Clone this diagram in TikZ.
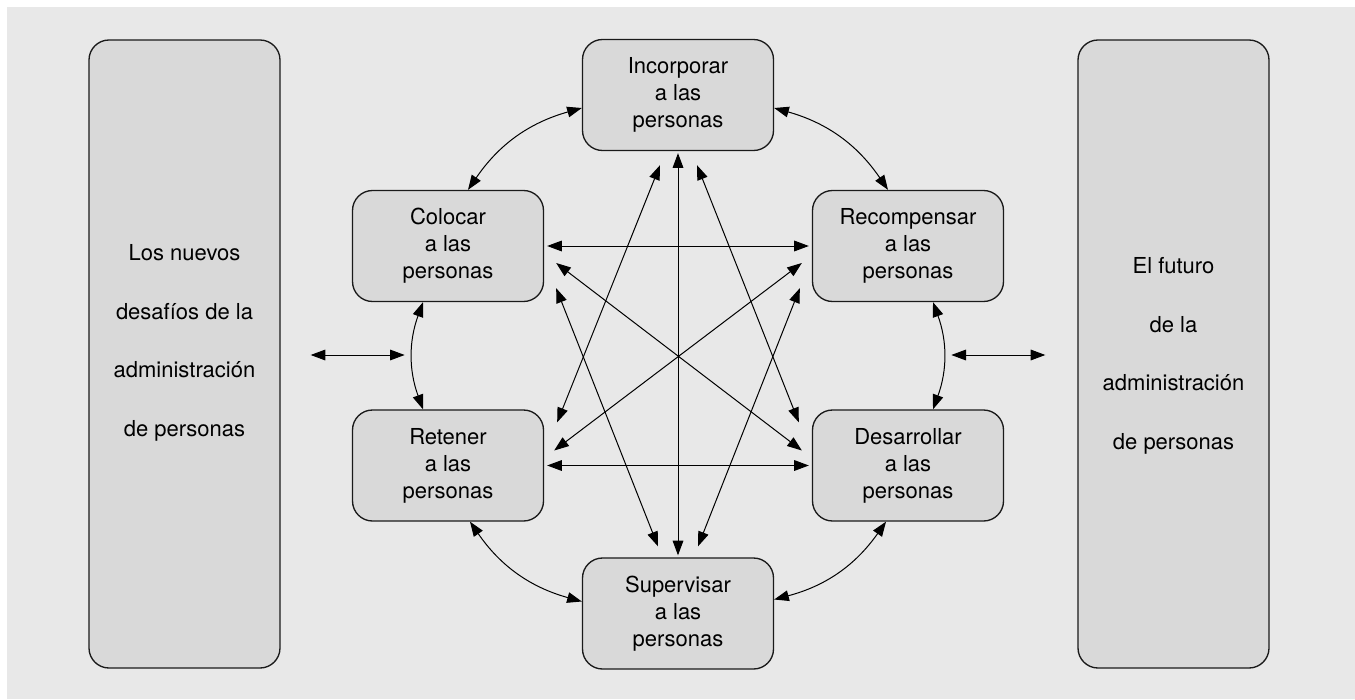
\documentclass[tikz,border=0pt]{standalone}
\usepackage{fontspec}
\setmainfont{TeX Gyre Heros}
\usetikzlibrary{arrows.meta, positioning, calc}
\definecolor{bggray}{HTML}{E8E8E8}
\definecolor{boxgray}{HTML}{D9D9D9}
\definecolor{edge}{HTML}{1A1A1A}
\tikzset{%
	stage/.style={draw=edge, line width=1pt, fill=boxgray, rectangle, rounded corners=15pt,%
		minimum width=143.25pt, minimum height=83.25pt, inner sep=0pt, align=center,%
		font=\fontsize{16.5}{20.25}\selectfont},
	area/.style={draw=edge, line width=1pt, fill=boxgray, rectangle, rounded corners=15pt,%
		minimum width=143.25pt, minimum height=471pt, inner sep=0pt},
	areatext/.style={align=center, font=\fontsize{16.5}{44}\selectfont},
	link/.style={{Triangle[length=11pt,width=8pt]}-{Triangle[length=11pt,width=8pt]},%
		line width=0.75pt}
}

\begin{document}
\begin{tikzpicture}[x=0.75pt, y=-0.75pt]
	\useasboundingbox (0,0) rectangle (1355,699);
	\fill[bggray] (7,7) rectangle (1355,699);

	\node[stage] (inc) at (678,95) {Incorporar\\a las\\personas};
	\node[stage] (col) at (448,246) {Colocar\\a las\\personas};
	\node[stage] (rec) at (908,246) {Recompensar\\a las\\personas};
	\node[stage] (ret) at (448,465.5) {Retener\\a las\\personas};
	\node[stage] (des) at (908,465.5) {Desarrollar\\a las\\personas};
	\node[stage] (sup) at (678,613.5) {Supervisar\\a las\\personas};
	\node[area] (lhs) at (184.5,354) {};
	\node[area] (rhs) at (1173.5,354) {};
	\node[areatext] (lhstext) at ($(lhs)+(0,-11)$) {Los nuevos\\desafíos de la\\administración\\de personas};
	\node[areatext] (rhstext) at ($(rhs)+(0,2)$) {El futuro\\de la\\administración\\de personas};

	\coordinate (la) at ($(lhs.east)+(30,1)$);
	\coordinate (lb) at ($(lhs.east)+(124,1)$);
	\coordinate (ra) at ($(rhs.west)+(-126,1)$);
	\coordinate (rb) at ($(rhs.west)+(-32,1)$);

	\draw[link] ($(col.north)+(20,0)$) to[bend left=20] ($(inc.west)+(0,13)$);
	\draw[link] ($(inc.east)+(0,13)$) to[bend left=20] ($(rec.north)+(-20,0)$);
	\draw[link] ($(col.south)+(-25,0)$) to[bend right=20] ($(ret.north)+(-25,0)$);
	\draw[link] ($(rec.south)+(25,0)$) to[bend left=20] ($(des.north)+(25,0)$);
	\draw[link] ($(ret.south)+(22,0)$) to[bend right=20] ($(sup.west)+(0,-12)$);
	\draw[link] ($(sup.east)+(0,-14)$) to[bend right=20] ($(des.south)+(-22,0)$);

	\draw[link] ($(col.east)+(3,0)$) to ($(rec.west)+(-3,0)$);
	\draw[link] ($(ret.east)+(3,0)$) to ($(des.west)+(-3,0)$);
	\draw[link] ($(inc.south)+(0,2)$) to ($(sup.north)+(0,-2)$);
	\draw[link] ($(inc.south)+(-18,14)$) to ($(ret.north east)+(13,13)$);
	\draw[link] ($(inc.south)+(19,14)$) to ($(des.north west)+(-13,13)$);
	\draw[link] ($(col.south east)+(12,-14)$) to ($(sup.north)+(-20,-11)$);
	\draw[link] ($(rec.south west)+(-12,-14)$) to ($(sup.north)+(20,-11)$);
	\draw[link] ($(col.east)+(12,17)$) to ($(des.west)+(-10,-15)$);
	\draw[link] ($(rec.west)+(-10,17)$) to ($(ret.east)+(10,-15)$);

	\draw[link] (la) to (lb);
	\draw[link] (ra) to (rb);
\end{tikzpicture}
\end{document}
